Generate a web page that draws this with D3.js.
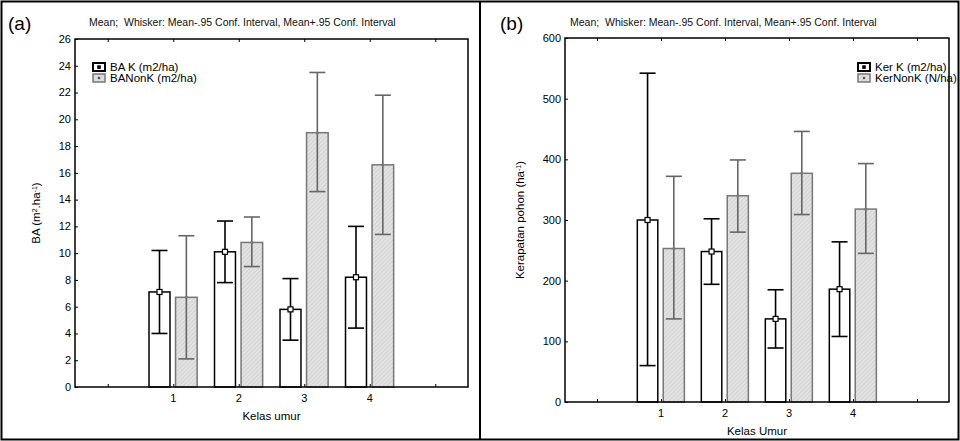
<!DOCTYPE html>
<html>
<head>
<meta charset="utf-8">
<script src="https://cdn.jsdelivr.net/npm/d3@7"></script>
<style>
  body { margin: 0; background: #fff; }
  svg { display: block; font-family: "Liberation Sans", Arial, sans-serif; }
</style>
</head>
<body>
<svg width="960" height="441"></svg>
<script>
// data
var kelas = [1, 2, 3, 4];

// (a) BA
var baK = [7.1, 10.1, 5.8, 8.2];
var baKLo = [4.0, 7.8, 3.5, 4.4];
var baKHi = [10.2, 12.4, 8.1, 12.0];
var baNonK = [6.7, 10.8, 19.0, 16.6];
var baNonKLo = [2.1, 9.0, 14.6, 11.4];
var baNonKHi = [11.3, 12.7, 23.5, 21.8];
var baTicks = d3.range(0, 27, 2);

// (b) kerapatan
var kerK = [300, 248, 137, 186];
var kerKLo = [60, 194, 89, 108];
var kerKHi = [542, 302, 185, 264];
var kerNonK = [253, 340, 377, 318];
var kerNonKLo = [137, 280, 309, 245];
var kerNonKHi = [372, 399, 446, 393];
var kerTicks = d3.range(0, 601, 100);

var xTicks = [0, 1, 2, 3, 4, 5];
var title = 'Mean;  Whisker: Mean-.95 Conf. Interval, Mean+.95 Conf. Interval';

var svg = d3.select('svg');

// hatch pattern for the NonK bars
var pat = svg.append('defs').append('pattern')
  .attr('id', 'hatch')
  .attr('patternUnits', 'userSpaceOnUse')
  .attr('width', 3).attr('height', 3)
  .attr('patternTransform', 'rotate(45)');
pat.append('rect').attr('width', 3).attr('height', 3).attr('fill', '#e2e2e2');
pat.append('line').attr('x1', 0).attr('y1', 0).attr('x2', 0).attr('y2', 3)
  .attr('stroke', '#c4c4c4').attr('stroke-width', 1);

// outer frame + divider
svg.append('rect').attr('x', 1.5).attr('y', 1.5).attr('width', 957).attr('height', 438)
  .attr('fill', 'none').attr('stroke', '#000').attr('stroke-width', 2);
svg.append('line').attr('x1', 480).attr('x2', 480).attr('y1', 1).attr('y2', 440)
  .attr('stroke', '#000').attr('stroke-width', 2);

function panel(cfg) {
  var x = d3.scaleLinear().domain([-0.5, 5.5]).range([cfg.left, cfg.right]);
  var y = d3.scaleLinear().domain(cfg.ydom).range([cfg.bottom, cfg.top]);
  var g = svg.append('g');

  // letter and title
  g.append('text').attr('x', cfg.letterX).attr('y', 30)
    .style('font-size', '19px').text(cfg.letter);
  g.append('text').attr('x', cfg.titleX).attr('y', 26)
    .style('font-size', '10.5px').style('white-space', 'pre')
    .attr('fill', '#111').text(title);

  var kRows = kelas.map(function (k, i) {
    return { c: k, m: cfg.k[i], lo: cfg.kLo[i], hi: cfg.kHi[i] };
  });
  var nRows = kelas.map(function (k, i) {
    return { c: k, m: cfg.n[i], lo: cfg.nLo[i], hi: cfg.nHi[i] };
  });

  // bars
  g.selectAll('.barK').data(kRows).enter().append('rect')
    .attr('x', function (d) { return x(d.c - 0.37); })
    .attr('width', function (d) { return x(d.c - 0.05) - x(d.c - 0.37); })
    .attr('y', function (d) { return y(d.m); })
    .attr('height', function (d) { return y(0) - y(d.m); })
    .attr('fill', '#fff').attr('stroke', '#000').attr('stroke-width', 1.5);

  g.selectAll('.barN').data(nRows).enter().append('rect')
    .attr('x', function (d) { return x(d.c + 0.035); })
    .attr('width', function (d) { return x(d.c + 0.365) - x(d.c + 0.035); })
    .attr('y', function (d) { return y(d.m); })
    .attr('height', function (d) { return y(0) - y(d.m); })
    .attr('fill', 'url(#hatch)').attr('stroke', '#777').attr('stroke-width', 1.5);

  // whiskers
  function whisk(rows, off, col) {
    var wg = g.append('g').attr('stroke', col).attr('stroke-width', 1.6);
    rows.forEach(function (d) {
      var cx = x(d.c + off);
      wg.append('line').attr('x1', cx).attr('x2', cx).attr('y1', y(d.lo)).attr('y2', y(d.hi));
      wg.append('line').attr('x1', cx - 8).attr('x2', cx + 8).attr('y1', y(d.lo)).attr('y2', y(d.lo));
      wg.append('line').attr('x1', cx - 8).attr('x2', cx + 8).attr('y1', y(d.hi)).attr('y2', y(d.hi));
    });
  }
  whisk(kRows, -0.21, '#000');
  whisk(nRows, 0.2, '#666');

  // mean markers
  g.selectAll('.mK').data(kRows).enter().append('rect')
    .attr('x', function (d) { return x(d.c - 0.21) - 2.5; })
    .attr('y', function (d) { return y(d.m) - 2.5; })
    .attr('width', 5).attr('height', 5)
    .attr('fill', '#fff').attr('stroke', '#000').attr('stroke-width', 1.2);
  g.selectAll('.mN').data(nRows).enter().append('circle')
    .attr('cx', function (d) { return x(d.c + 0.2); })
    .attr('cy', function (d) { return y(d.m); })
    .attr('r', 1.5).attr('fill', '#777');

  // frame of the plot
  g.append('rect').attr('x', cfg.left).attr('y', cfg.top)
    .attr('width', cfg.right - cfg.left).attr('height', cfg.bottom - cfg.top)
    .attr('fill', 'none').attr('stroke', '#000').attr('stroke-width', 1.5);

  // axes (ticks inward)
  g.append('g').attr('transform', 'translate(' + cfg.left + ',0)')
    .call(d3.axisRight(y).tickValues(cfg.yticks).tickSize(3).tickFormat(''));
  g.append('g').attr('transform', 'translate(' + cfg.left + ',0)')
    .selectAll('text').data(cfg.yticks).enter().append('text')
    .attr('x', -4).attr('y', function (d) { return y(d); }).attr('dy', '0.35em')
    .attr('text-anchor', 'end').style('font-size', '11px').text(function (d) { return d; });
  g.append('g').attr('transform', 'translate(0,' + cfg.bottom + ')')
    .call(d3.axisTop(x).tickValues(xTicks).tickSize(3).tickFormat(''));
  g.append('g').attr('transform', 'translate(0,' + cfg.top + ')')
    .call(d3.axisBottom(x).tickValues(xTicks).tickSize(3).tickFormat(''));
  g.selectAll('.domain').remove();

  g.selectAll('.xl').data(kelas).enter().append('text')
    .attr('x', function (d) { return x(d); }).attr('y', cfg.bottom + 15)
    .attr('text-anchor', 'middle').style('font-size', '11px').text(function (d) { return d; });

  // axis titles
  g.append('text').attr('x', (cfg.left + cfg.right) / 2).attr('y', cfg.bottom + 33)
    .attr('text-anchor', 'middle').style('font-size', '11.5px').text(cfg.xlab);
  var yl = g.append('text')
    .attr('transform', 'translate(' + cfg.ylabX + ',' + ((cfg.top + cfg.bottom) / 2) + ') rotate(-90)')
    .attr('text-anchor', 'middle').style('font-size', '11.5px');
  cfg.ylab.forEach(function (p) {
    var t = yl.append('tspan').text(p[0]);
    if (p[1]) t.attr('baseline-shift', 'super').style('font-size', '7px');
  });

  // legend
  cfg.legend.forEach(function (l, i) {
    var ly = cfg.legY + i * 11;
    if (i === 0) {
      g.append('rect').attr('x', cfg.legX).attr('y', ly - 4).attr('width', 12).attr('height', 8)
        .attr('fill', '#fff').attr('stroke', '#000').attr('stroke-width', 2);
      g.append('rect').attr('x', cfg.legX + 4.2).attr('y', ly - 1.7).attr('width', 3.6).attr('height', 3.6)
        .attr('fill', '#000');
    } else {
      g.append('rect').attr('x', cfg.legX).attr('y', ly - 4).attr('width', 12).attr('height', 8)
        .attr('fill', 'url(#hatch)').attr('stroke', '#777').attr('stroke-width', 1.5);
      g.append('circle').attr('cx', cfg.legX + 6).attr('cy', ly).attr('r', 1.3).attr('fill', '#555');
    }
    g.append('text').attr('x', cfg.legX + 17).attr('y', ly).attr('dy', '0.35em')
      .style('font-size', '11.5px').text(l);
  });
}

panel({
  letter: '(a)', letterX: 8, titleX: 89,
  left: 75, right: 468, top: 39, bottom: 387,
  ydom: [0, 26], yticks: baTicks,
  k: baK, kLo: baKLo, kHi: baKHi, n: baNonK, nLo: baNonKLo, nHi: baNonKHi,
  xlab: 'Kelas umur', ylabX: 40,
  ylab: [['BA (m'], ['2', 1], ['.ha'], ['-1', 1], [')']],
  legend: ['BA K (m2/ha)', 'BANonK (m2/ha)'], legX: 93, legY: 67
});

panel({
  letter: '(b)', letterX: 500, titleX: 570,
  left: 565, right: 949, top: 38, bottom: 402,
  ydom: [0, 600], yticks: kerTicks,
  k: kerK, kLo: kerKLo, kHi: kerKHi, n: kerNonK, nLo: kerNonKLo, nHi: kerNonKHi,
  xlab: 'Kelas Umur', ylabX: 524,
  ylab: [['Kerapatan pohon (ha'], ['-1', 1], [')']],
  legend: ['Ker K (m2/ha)', 'KerNonK (N/ha)'], legX: 858, legY: 67
});
</script>
</body>
</html>
